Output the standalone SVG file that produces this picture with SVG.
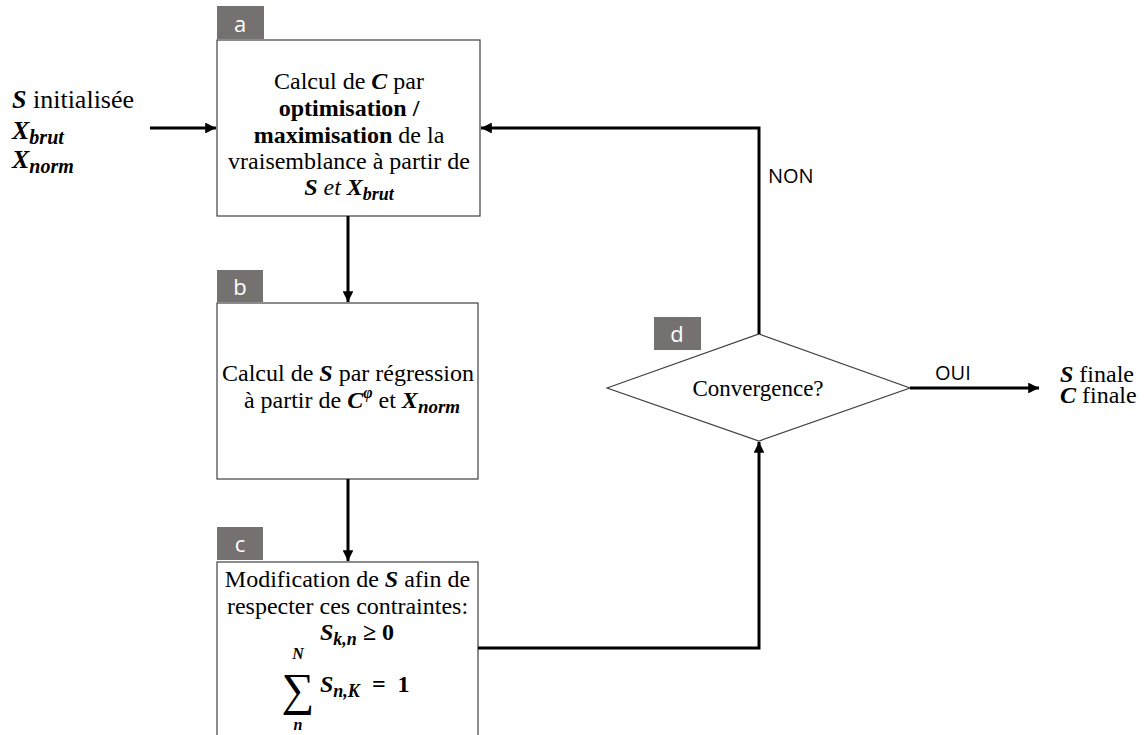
<svg xmlns="http://www.w3.org/2000/svg" width="1146" height="735" viewBox="0 0 1146 735">
<style>
.box{fill:#fff;stroke:#404040;stroke-width:1.2}
.tag{fill:#767171}
.tagt{font-size:22px;fill:#fff;text-anchor:middle}
.t{font-size:24px;fill:#000}
.c{text-anchor:middle}
.m{font-weight:bold;font-style:italic}
.b{font-weight:bold}
.i{font-style:italic}
.sub{font-size:18px;font-weight:bold;font-style:italic}
.lbl{font-size:20px;fill:#000}
.con{fill:none;stroke:#000;stroke-width:3}
</style>
<defs>
<marker id="ah" viewBox="0 0 10 10" refX="10" refY="5" markerWidth="4" markerHeight="3.6" orient="auto" markerUnits="strokeWidth">
<path d="M0,0 L10,5 L0,10 z" fill="#000"/>
</marker>
</defs>

<g font-family="Liberation Serif, serif">
<g id="input">
<text class="t" x="12" y="108" style="font-size:26px"><tspan class="m">S</tspan> initialisée</text>
<text class="t" x="12" y="139" style="font-size:26px"><tspan class="m">X</tspan><tspan class="sub" style="font-size:20px" dy="5">brut</tspan></text>
<text class="t" x="12" y="168" style="font-size:26px"><tspan class="m">X</tspan><tspan class="sub" style="font-size:20px" dy="5">norm</tspan></text>
</g>

<g id="node-a">
<rect class="box" x="217" y="40" width="263" height="176"/>
<rect class="tag" x="217" y="6" width="47" height="33"/>
<text class="tagt" x="240" y="32" font-family="Open Sans, Liberation Sans, sans-serif">a</text>
<text class="t c" x="349" y="89">Calcul de <tspan class="m">C</tspan> par</text>
<text class="t c b" x="349" y="116">optimisation /</text>
<text class="t c" x="349" y="143"><tspan class="b">maximisation</tspan> de la</text>
<text class="t c" x="349" y="169">vraisemblance à partir de</text>
<text class="t c" x="349" y="195"><tspan class="m">S</tspan><tspan class="i"> et </tspan><tspan class="m">X</tspan><tspan class="sub" dy="5">brut</tspan></text>
</g>

<g id="node-b">
<rect class="box" x="217" y="303" width="261" height="176"/>
<rect class="tag" x="217" y="270" width="46" height="32"/>
<text class="tagt" x="240" y="295" font-family="Open Sans, Liberation Sans, sans-serif">b</text>
<text class="t c" x="348" y="381">Calcul de <tspan class="m">S</tspan> par régression</text>
<text class="t c" x="352" y="408">à partir de <tspan class="m">C</tspan><tspan class="sub" style="font-size:16px" dy="-10">φ</tspan><tspan dy="10"> et </tspan><tspan class="m">X</tspan><tspan class="sub" style="font-size:19px" dy="5">norm</tspan></text>
</g>

<g id="node-c">
<rect class="box" x="217" y="562" width="261" height="185"/>
<rect class="tag" x="217" y="527" width="46" height="33"/>
<text class="tagt" x="240" y="552" font-family="Open Sans, Liberation Sans, sans-serif">c</text>
<text class="t c" x="347.5" y="587">Modification de <tspan class="m">S</tspan> afin de</text>
<text class="t c" x="347.5" y="614">respecter ces contraintes:</text>
<text class="t" x="320" y="640"><tspan class="m">S</tspan><tspan class="sub" dy="5">k,n</tspan><tspan class="b" dy="-5">&#160;≥&#160;0</tspan></text>
<text class="t c" x="298" y="705" style="font-size:46px">∑</text>
<text class="t c m" x="298" y="659" style="font-size:16px">N</text>
<text class="t c m" x="298" y="730" style="font-size:16px">n</text>
<text class="t" x="320" y="692"><tspan class="m">S</tspan><tspan class="sub" dy="5">n,K</tspan><tspan class="b" dy="-5">&#160;&#160;=&#160;&#160;1</tspan></text>
</g>

<g id="node-d">
<polygon class="box" points="607,388 759,334 910,388 759,441"/>
<rect class="tag" x="654" y="317" width="47" height="33"/>
<text class="tagt" x="677" y="342" font-family="Open Sans, Liberation Sans, sans-serif">d</text>
<text class="t c" x="758" y="396" style="font-size:23px">Convergence?</text>
</g>

<g id="output">
<text class="t" style="font-size:24px"><tspan x="1060" y="382" class="m">S</tspan><tspan> finale</tspan><tspan x="1060" y="403" class="m">C</tspan><tspan> finale</tspan></text>
</g>
</g>

<g id="connectors">
<path class="con" d="M150,128 L216,128" marker-end="url(#ah)"/>
<path class="con" d="M348,216 L348,302" marker-end="url(#ah)"/>
<path class="con" d="M348,479 L348,561" marker-end="url(#ah)"/>
<path class="con" d="M759,334 L759,128 L481,128" marker-end="url(#ah)"/>
<path class="con" d="M478,648 L759,648 L759,442" marker-end="url(#ah)"/>
<path class="con" d="M910,388 L1039,388" marker-end="url(#ah)"/>
<text class="lbl" x="768" y="183" font-family="Open Sans, Liberation Sans, sans-serif">NON</text>
<text class="lbl" x="935" y="380" font-family="Open Sans, Liberation Sans, sans-serif">OUI</text>
</g>
</svg>
